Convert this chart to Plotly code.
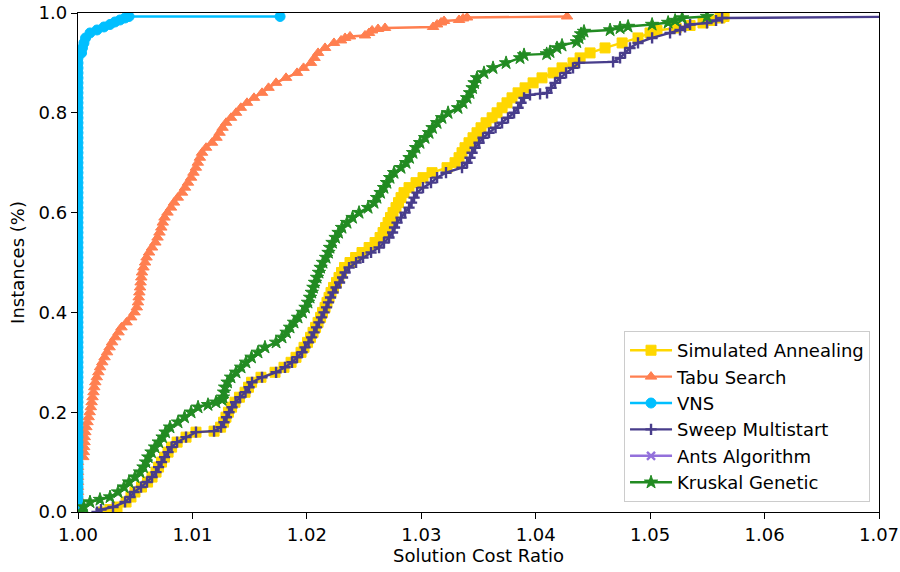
import plotly.graph_objects as go

# ---------------- data ----------------
series_names = ["Simulated Annealing", "Tabu Search", "VNS",
                "Sweep Multistart", "Ants Algorithm", "Kruskal Genetic"]

x_ticks = [1.00, 1.01, 1.02, 1.03, 1.04, 1.05, 1.06, 1.07]
y_ticks = [0.0, 0.2, 0.4, 0.6, 0.8, 1.0]

# Simulated Annealing
sa_ratio = [1.00219, 1.00280, 1.00341, 1.00420, 1.00463, 1.00498, 1.00555, 1.00608, 1.00647, 1.00682,
            1.00704, 1.00730, 1.00756, 1.00787, 1.00818, 1.00866, 1.00944, 1.01031, 1.01189, 1.01246,
            1.01272, 1.01293, 1.01315, 1.01342, 1.01372, 1.01411, 1.01460, 1.01490, 1.01517, 1.01599,
            1.01722, 1.01800, 1.01862, 1.01905, 1.01949, 1.01975, 1.02006, 1.02032, 1.02054, 1.02076,
            1.02098, 1.02120, 1.02137, 1.02159, 1.02176, 1.02194, 1.02211, 1.02233, 1.02259, 1.02281,
            1.02303, 1.02329, 1.02377, 1.02426, 1.02482, 1.02544, 1.02596, 1.02640, 1.02666, 1.02688,
            1.02710, 1.02731, 1.02753, 1.02779, 1.02801, 1.02823, 1.02849, 1.02893, 1.02954, 1.03015,
            1.03094, 1.03225, 1.03295, 1.03330, 1.03356, 1.03382, 1.03417, 1.03452, 1.03487, 1.03522,
            1.03566, 1.03619, 1.03662, 1.03706, 1.03749, 1.03793, 1.03846, 1.03907, 1.03977, 1.04055,
            1.04152, 1.04230, 1.04326, 1.04388, 1.04475, 1.04606, 1.04755, 1.04894, 1.04999, 1.05060,
            1.05227, 1.05349, 1.05462, 1.05524, 1.05611, 1.05646]
sa_frac = [0.000, 0.005, 0.01, 0.02, 0.03, 0.04, 0.05, 0.06, 0.07, 0.08,
           0.09, 0.10, 0.11, 0.12, 0.13, 0.14, 0.15, 0.16, 0.162, 0.17,
           0.18, 0.19, 0.20, 0.21, 0.22, 0.23, 0.24, 0.25, 0.26, 0.27,
           0.28, 0.29, 0.30, 0.31, 0.32, 0.33, 0.34, 0.35, 0.36, 0.37,
           0.38, 0.39, 0.40, 0.41, 0.42, 0.43, 0.44, 0.45, 0.46, 0.47,
           0.48, 0.49, 0.50, 0.51, 0.52, 0.53, 0.54, 0.55, 0.56, 0.57,
           0.58, 0.59, 0.60, 0.61, 0.62, 0.63, 0.64, 0.65, 0.66, 0.67,
           0.68, 0.69, 0.70, 0.71, 0.72, 0.73, 0.74, 0.75, 0.76, 0.77,
           0.78, 0.79, 0.80, 0.81, 0.82, 0.83, 0.84, 0.85, 0.86, 0.87,
           0.88, 0.89, 0.90, 0.91, 0.92, 0.93, 0.94, 0.95, 0.96, 0.965,
           0.97, 0.975, 0.98, 0.985, 0.99, 0.993]

# Tabu Search
tabu_ratio = [1.0, 1.0, 1.0, 1.0, 1.0, 1.0, 1.0, 1.0, 1.0, 1.0,
              1.0, 1.00046, 1.00051, 1.00054, 1.00057, 1.00059, 1.00064, 1.00073, 1.00083, 1.00093,
              1.00102, 1.00112, 1.00119, 1.00127, 1.00135, 1.00142, 1.00151, 1.00164, 1.00178, 1.00193,
              1.00212, 1.00232, 1.00254, 1.00276, 1.00298, 1.00326, 1.00354, 1.00380, 1.00424, 1.00465,
              1.00494, 1.00514, 1.00524, 1.00530, 1.00536, 1.00542, 1.00547, 1.00553, 1.00559, 1.00572,
              1.00586, 1.00599, 1.00621, 1.00647, 1.00676, 1.00695, 1.00712, 1.00728, 1.00741, 1.00756,
              1.00782, 1.00813, 1.00839, 1.00872, 1.00909, 1.00935, 1.00961, 1.00988, 1.01009, 1.01030,
              1.01047, 1.01065, 1.01084, 1.01119, 1.01171, 1.01210, 1.01237, 1.01263, 1.01294, 1.01337,
              1.01381, 1.01423, 1.01477, 1.01538, 1.01608, 1.01665, 1.01731, 1.01818, 1.01914, 1.01971,
              1.02036, 1.02067, 1.02098, 1.02159, 1.02237, 1.02299, 1.02334, 1.02377, 1.02508, 1.02543,
              1.02570, 1.02622, 1.02683, 1.03103, 1.03138, 1.03173, 1.03199, 1.03330, 1.03365, 1.03400,
              1.04274]
tabu_frac = [0.00, 0.01, 0.02, 0.03, 0.04, 0.05, 0.06, 0.07, 0.08, 0.09,
             0.10, 0.11, 0.12, 0.13, 0.14, 0.15, 0.16, 0.17, 0.18, 0.19,
             0.20, 0.21, 0.22, 0.23, 0.24, 0.25, 0.26, 0.27, 0.28, 0.29,
             0.30, 0.31, 0.32, 0.33, 0.34, 0.35, 0.36, 0.37, 0.38, 0.39,
             0.40, 0.41, 0.42, 0.43, 0.44, 0.45, 0.46, 0.47, 0.48, 0.49,
             0.50, 0.51, 0.52, 0.53, 0.54, 0.55, 0.56, 0.57, 0.58, 0.59,
             0.60, 0.61, 0.62, 0.63, 0.64, 0.65, 0.66, 0.67, 0.68, 0.69,
             0.70, 0.71, 0.72, 0.73, 0.74, 0.75, 0.76, 0.77, 0.78, 0.79,
             0.80, 0.81, 0.82, 0.83, 0.84, 0.85, 0.86, 0.87, 0.88, 0.89,
             0.90, 0.91, 0.92, 0.93, 0.94, 0.945, 0.95, 0.953, 0.955, 0.96,
             0.965, 0.968, 0.97, 0.972, 0.977, 0.981, 0.984, 0.986, 0.989, 0.991,
             0.993]

# VNS
vns_ratio = [1.0, 1.0, 1.0, 1.0, 1.0, 1.0, 1.0, 1.0, 1.0, 1.0,
             1.0, 1.0, 1.0, 1.0, 1.0, 1.0, 1.0, 1.0, 1.0, 1.0,
             1.0, 1.0, 1.0, 1.0, 1.0, 1.0, 1.0, 1.0, 1.0, 1.0,
             1.0, 1.0, 1.0, 1.0, 1.0, 1.0, 1.0, 1.0, 1.0, 1.0,
             1.0, 1.0, 1.0, 1.0, 1.0, 1.0, 1.0, 1.0, 1.0, 1.0,
             1.0, 1.0, 1.0, 1.0, 1.0, 1.0, 1.0, 1.0, 1.0, 1.0,
             1.0, 1.0, 1.0, 1.0, 1.0, 1.0, 1.0, 1.0, 1.0, 1.0,
             1.0, 1.0, 1.0, 1.0, 1.0, 1.0, 1.0, 1.0, 1.0, 1.0,
             1.0, 1.0, 1.0, 1.0, 1.0, 1.0, 1.0, 1.0, 1.0, 1.0,
             1.0, 1.0, 1.00031, 1.00039, 1.00052, 1.00066, 1.00105, 1.00166, 1.00227, 1.00280,
             1.00323, 1.00367, 1.00411, 1.00446, 1.01766]
vns_frac = [0.00, 0.01, 0.02, 0.03, 0.04, 0.05, 0.06, 0.07, 0.08, 0.09,
            0.10, 0.11, 0.12, 0.13, 0.14, 0.15, 0.16, 0.17, 0.18, 0.19,
            0.20, 0.21, 0.22, 0.23, 0.24, 0.25, 0.26, 0.27, 0.28, 0.29,
            0.30, 0.31, 0.32, 0.33, 0.34, 0.35, 0.36, 0.37, 0.38, 0.39,
            0.40, 0.41, 0.42, 0.43, 0.44, 0.45, 0.46, 0.47, 0.48, 0.49,
            0.50, 0.51, 0.52, 0.53, 0.54, 0.55, 0.56, 0.57, 0.58, 0.59,
            0.60, 0.61, 0.62, 0.63, 0.64, 0.65, 0.66, 0.67, 0.68, 0.69,
            0.70, 0.71, 0.72, 0.73, 0.74, 0.75, 0.76, 0.77, 0.78, 0.79,
            0.80, 0.81, 0.82, 0.83, 0.84, 0.85, 0.86, 0.87, 0.88, 0.89,
            0.90, 0.91, 0.92, 0.93, 0.94, 0.95, 0.96, 0.966, 0.972, 0.977,
            0.982, 0.986, 0.99, 0.993, 0.993]

# Sweep Multistart (last instance lies beyond the visible x range)
sweep_ratio = [1.00166, 1.00201, 1.00306, 1.00411, 1.00455, 1.00490, 1.00551, 1.00603, 1.00647, 1.00682,
               1.00704, 1.00730, 1.00756, 1.00787, 1.00818, 1.00866, 1.00944, 1.01031, 1.01189, 1.01250,
               1.01276, 1.01298, 1.01320, 1.01346, 1.01377, 1.01416, 1.01464, 1.01495, 1.01521, 1.01608,
               1.01731, 1.01809, 1.01870, 1.01914, 1.01958, 1.01984, 1.02015, 1.02041, 1.02063, 1.02085,
               1.02106, 1.02128, 1.02150, 1.02172, 1.02189, 1.02207, 1.02229, 1.02255, 1.02286, 1.02312,
               1.02334, 1.02369, 1.02430, 1.02491, 1.02561, 1.02631, 1.02674, 1.02718, 1.02749, 1.02766,
               1.02788, 1.02823, 1.02858, 1.02893, 1.02915, 1.02937, 1.02963, 1.03015, 1.03085, 1.03138,
               1.03216, 1.03356, 1.03400, 1.03426, 1.03444, 1.03470, 1.03505, 1.03540, 1.03592, 1.03649,
               1.03706, 1.03758, 1.03811, 1.03846, 1.03872, 1.03898, 1.03950, 1.04038, 1.04099, 1.04134,
               1.04169, 1.04213, 1.04265, 1.04326, 1.04379, 1.04676, 1.04737, 1.04781, 1.04824, 1.04894,
               1.05017, 1.05174, 1.05261, 1.05305, 1.05349, 1.05497, 1.05576, 1.05629, 1.07500]
sweep_frac = [0.000, 0.005, 0.01, 0.02, 0.03, 0.04, 0.05, 0.06, 0.07, 0.08,
              0.09, 0.10, 0.11, 0.12, 0.13, 0.14, 0.15, 0.16, 0.162, 0.17,
              0.18, 0.19, 0.20, 0.21, 0.22, 0.23, 0.24, 0.25, 0.26, 0.27,
              0.28, 0.29, 0.30, 0.31, 0.32, 0.33, 0.34, 0.35, 0.36, 0.37,
              0.38, 0.39, 0.40, 0.41, 0.42, 0.43, 0.44, 0.45, 0.46, 0.47,
              0.48, 0.49, 0.50, 0.51, 0.52, 0.53, 0.54, 0.55, 0.56, 0.57,
              0.58, 0.59, 0.60, 0.61, 0.62, 0.63, 0.64, 0.65, 0.66, 0.67,
              0.68, 0.69, 0.70, 0.71, 0.72, 0.73, 0.74, 0.75, 0.76, 0.77,
              0.78, 0.79, 0.80, 0.81, 0.82, 0.83, 0.836, 0.838, 0.84, 0.85,
              0.86, 0.87, 0.88, 0.89, 0.90, 0.902, 0.91, 0.92, 0.93, 0.94,
              0.95, 0.96, 0.966, 0.972, 0.977, 0.98, 0.985, 0.99, 0.993]

# Ants Algorithm: no instance inside the visible range
ants_ratio = []
ants_frac = []

# Kruskal Genetic
kruskal_ratio = [1.00026, 1.00052, 1.00105, 1.00192, 1.00280, 1.00350, 1.00402, 1.00446, 1.00498, 1.00542,
                 1.00572, 1.00594, 1.00614, 1.00642, 1.00673, 1.00706, 1.00739, 1.00765, 1.00804, 1.00874,
                 1.00931, 1.00988, 1.01049, 1.01136, 1.01206, 1.01259, 1.01267, 1.01276, 1.01285, 1.01307,
                 1.01337, 1.01381, 1.01425, 1.01468, 1.01516, 1.01573, 1.01634, 1.01731, 1.01783, 1.01822,
                 1.01853, 1.01888, 1.01923, 1.01962, 1.01988, 1.02010, 1.02028, 1.02043, 1.02057, 1.02071,
                 1.02089, 1.02106, 1.02120, 1.02141, 1.02168, 1.02189, 1.02202, 1.02224, 1.02251, 1.02277,
                 1.02307, 1.02351, 1.02399, 1.02456, 1.02535, 1.02587, 1.02613, 1.02644, 1.02674, 1.02700,
                 1.02727, 1.02762, 1.02823, 1.02867, 1.02897, 1.02928, 1.02954, 1.02989, 1.03033, 1.03068,
                 1.03098, 1.03138, 1.03181, 1.03234, 1.03321, 1.03365, 1.03400, 1.03426, 1.03448, 1.03465,
                 1.03487, 1.03548, 1.03627, 1.03741, 1.03863, 1.03898, 1.04096, 1.04125, 1.04186, 1.04230,
                 1.04359, 1.04379, 1.04396, 1.04422, 1.04650, 1.04737, 1.04807, 1.05017, 1.05157, 1.05218,
                 1.05280, 1.05497]
kruskal_frac = [0.00, 0.01, 0.02, 0.025, 0.03, 0.04, 0.05, 0.06, 0.07, 0.08,
                0.09, 0.10, 0.11, 0.12, 0.13, 0.14, 0.15, 0.16, 0.17, 0.18,
                0.19, 0.20, 0.21, 0.215, 0.22, 0.225, 0.23, 0.24, 0.25, 0.26,
                0.27, 0.28, 0.29, 0.30, 0.31, 0.32, 0.33, 0.34, 0.35, 0.36,
                0.37, 0.38, 0.39, 0.40, 0.41, 0.42, 0.43, 0.44, 0.45, 0.46,
                0.47, 0.48, 0.49, 0.50, 0.51, 0.52, 0.53, 0.54, 0.55, 0.56,
                0.57, 0.58, 0.59, 0.60, 0.61, 0.62, 0.63, 0.64, 0.65, 0.66,
                0.67, 0.68, 0.69, 0.70, 0.71, 0.72, 0.73, 0.74, 0.75, 0.76,
                0.77, 0.78, 0.79, 0.80, 0.81, 0.82, 0.83, 0.84, 0.85, 0.86,
                0.87, 0.88, 0.89, 0.90, 0.91, 0.916, 0.918, 0.922, 0.93, 0.935,
                0.942, 0.95, 0.958, 0.963, 0.966, 0.970, 0.973, 0.977, 0.981, 0.985,
                0.99, 0.993]

# ---------------- styling ----------------
styles = [
    dict(color="#FFD700", symbol="square", size=10),
    dict(color="#FF7F50", symbol="triangle-up", size=10),
    dict(color="#00BFFF", symbol="circle", size=10),
    dict(color="#483D8B", symbol="cross-thin", size=8),
    dict(color="#9370DB", symbol="x-thin", size=8),
    dict(color="#228B22", symbol="star", size=10),
]
data = [(sa_ratio, sa_frac), (tabu_ratio, tabu_frac), (vns_ratio, vns_frac),
        (sweep_ratio, sweep_frac), (ants_ratio, ants_frac), (kruskal_ratio, kruskal_frac)]

fig = go.Figure()
for name, (xs, ys), st in zip(series_names, data, styles):
    thin = st["symbol"].endswith("-thin")
    fig.add_trace(go.Scatter(
        x=xs if xs else [None], y=ys if ys else [None],
        name=name, mode="lines+markers", legendgroup=name, showlegend=True,
        line=dict(color=st["color"], width=2.4),
        marker=dict(symbol=st["symbol"], size=st["size"], color=st["color"],
                    line=dict(color=st["color"], width=2.4 if thin else 1)),
    ))

axis_common = dict(showline=True, linecolor="black", linewidth=1.4, mirror=True,
                   ticks="outside", ticklen=6, tickwidth=1.4, tickcolor="black",
                   showgrid=False, zeroline=False, automargin=False,
                   ticklabeloverflow="allow", tickfont=dict(size=18))

fig.update_layout(
    width=900, height=572,
    margin=dict(l=78, r=21, t=13, b=60),
    plot_bgcolor="white", paper_bgcolor="white",
    font=dict(family="DejaVu Sans", size=18, color="black"),
    xaxis=dict(range=[1.0, 1.07], tickvals=x_ticks, tickformat=".2f",
               title=dict(text="Solution Cost Ratio", standoff=3, font=dict(size=18)),
               **axis_common),
    yaxis=dict(range=[0.0, 1.0], tickvals=y_ticks, tickformat=".1f",
               title=dict(text="Instances (%)", standoff=9, font=dict(size=18)),
               **axis_common),
    legend=dict(x=0.9888, y=0.02, xanchor="right", yanchor="bottom",
                bgcolor="rgba(255,255,255,0.8)", bordercolor="#cccccc", borderwidth=1,
                tracegroupgap=0, itemwidth=42, font=dict(size=18)),
    showlegend=True,
)

# remove the page's default 8px body margin so the figure fills the window exactly
fig.write_html("out.html", config={"displayModeBar": False},
               post_script="document.body.style.margin='0px';")
